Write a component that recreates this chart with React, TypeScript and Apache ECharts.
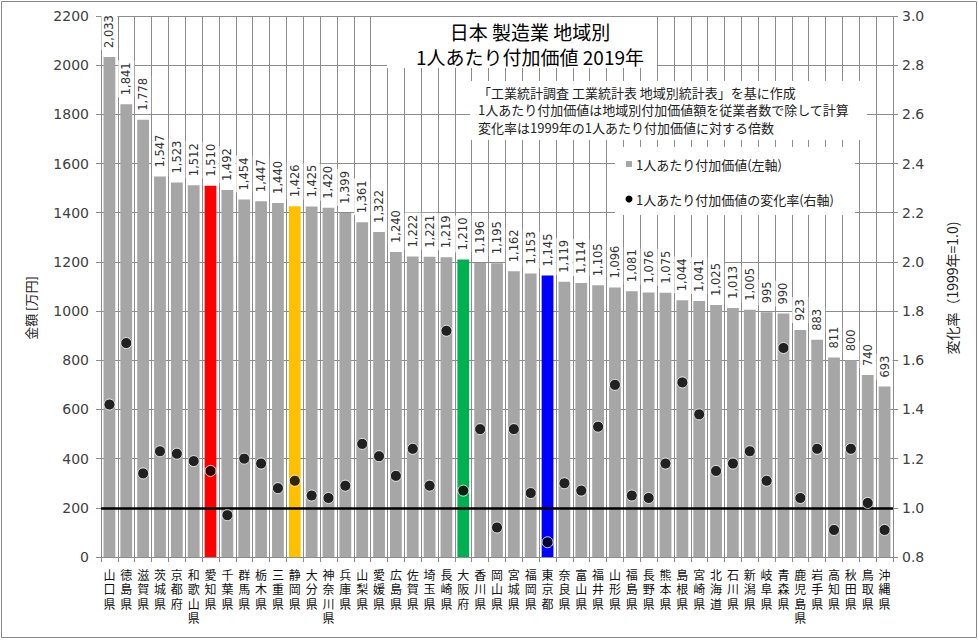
import React, { useEffect, useRef } from "react";
import * as echarts from "echarts";

const categories = [
  "山口県", "徳島県", "滋賀県", "茨城県", "京都府", "和歌山県", "愛知県", "千葉県", "群馬県", "栃木県",
  "三重県", "静岡県", "大分県", "神奈川県", "兵庫県", "山梨県", "愛媛県", "広島県", "佐賀県", "埼玉県",
  "長崎県", "大阪府", "香川県", "岡山県", "宮城県", "福岡県", "東京都", "奈良県", "富山県", "福井県",
  "山形県", "福島県", "長野県", "熊本県", "島根県", "宮崎県", "北海道", "石川県", "新潟県", "岐阜県",
  "青森県", "鹿児島県", "岩手県", "高知県", "秋田県", "鳥取県", "沖縄県",
];

const valuePerWorker = [
  2033, 1841, 1778, 1547, 1523, 1512, 1510, 1492, 1454, 1447,
  1440, 1426, 1425, 1420, 1399, 1361, 1322, 1240, 1222, 1221,
  1219, 1210, 1196, 1195, 1162, 1153, 1145, 1119, 1114, 1105,
  1096, 1081, 1076, 1075, 1044, 1041, 1025, 1013, 1005, 995,
  990, 923, 883, 811, 800, 740, 693,
];

const changeRatio = [
  1.42, 1.67, 1.14, 1.23, 1.22, 1.19, 1.15, 0.97, 1.20, 1.18,
  1.08, 1.11, 1.05, 1.04, 1.09, 1.26, 1.21, 1.13, 1.24, 1.09,
  1.72, 1.07, 1.32, 0.92, 1.32, 1.06, 0.86, 1.10, 1.07, 1.33,
  1.50, 1.05, 1.04, 1.18, 1.51, 1.38, 1.15, 1.18, 1.23, 1.11,
  1.65, 1.04, 1.24, 0.91, 1.24, 1.02, 0.91,
];

const leftTicks = { min: 0, max: 2200, interval: 200 };
const rightTicks = { min: 0.8, max: 3.0, interval: 0.2 };

const titleLines = ["日本 製造業 地域別", "1人あたり付加価値 2019年"];
const noteLines = [
  "「工業統計調査 工業統計表 地域別統計表」を基に作成",
  "1人あたり付加価値は地域別付加価値額を従業者数で除して計算",
  "変化率は1999年の1人あたり付加価値に対する倍数",
];
const legendNames = ["1人あたり付加価値(左軸)", "1人あたり付加価値の変化率(右軸)"];
const leftAxisName = "金額 [万円]";
const rightAxisName = "変化率（1999年=1.0)";

const highlightColors: Record<string, string> = {
  "愛知県": "#FF0000",
  "静岡県": "#FFC000",
  "大阪府": "#00B050",
  "東京都": "#0000FF",
};

const JP = '"Noto Sans CJK JP", "Noto Sans", sans-serif';
const NUM = '"DejaVu Sans", sans-serif';
const GRID = "#8c8c8c";
const BAR = "#A6A6A6";

export default function App() {
  const ref = useRef<HTMLDivElement>(null);

  useEffect(() => {
    document.body.style.margin = "0";
    if (!ref.current) return;
    const chart = echarts.init(ref.current, null, { renderer: "svg" });

    const barData = valuePerWorker.map((v, i) => ({
      value: v,
      itemStyle: { color: highlightColors[categories[i]] ?? BAR },
    }));

    const option: any = {
      animation: false,
      backgroundColor: "#fff",
      grid: { left: 101, right: 85, top: 16, bottom: 83 },
      xAxis: {
        type: "category",
        data: categories,
        boundaryGap: true,
        axisLine: { show: true, lineStyle: { color: GRID, width: 1 } },
        axisTick: { show: true, interval: 0, length: 5, lineStyle: { color: GRID } },
        splitLine: { show: true, interval: 0, lineStyle: { color: GRID, width: 1 } },
        axisLabel: {
          interval: 0,
          margin: 10,
          fontSize: 12,
          lineHeight: 14.5,
          color: "#111",
          fontFamily: JP,
          formatter: (v: string) => v.split("").join("\n"),
        },
      },
      yAxis: [
        {
          type: "value",
          min: leftTicks.min,
          max: leftTicks.max,
          interval: leftTicks.interval,
          axisLine: { show: false },
          axisTick: { show: true, length: 5, lineStyle: { color: GRID } },
          splitLine: { show: true, lineStyle: { color: GRID, width: 1 } },
          axisLabel: {
            fontSize: 14,
            color: "#404040",
            fontFamily: NUM,
            margin: 12,
            formatter: (v: number) => String(v),
          },
        },
        {
          type: "value",
          position: "right",
          min: rightTicks.min,
          max: rightTicks.max,
          interval: rightTicks.interval,
          axisLine: { show: false },
          axisTick: { show: true, length: 5, lineStyle: { color: GRID } },
          splitLine: { show: false },
          axisLabel: {
            fontSize: 14,
            color: "#404040",
            fontFamily: NUM,
            margin: 9,
            formatter: (v: number) => v.toFixed(1),
          },
        },
      ],
      series: [
        {
          type: "bar",
          name: legendNames[0],
          data: barData,
          barWidth: "70%",
          z: 2,
          label: {
            show: true,
            position: "top",
            rotate: 90,
            align: "left",
            verticalAlign: "middle",
            distance: 7,
            fontSize: 11.5,
            fontFamily: NUM,
            color: "#333",
            backgroundColor: "#fff",
            padding: [2, 2, 2, 2],
            formatter: (p: any) => Number(p.value).toLocaleString("en-US"),
          },
        },
        {
          type: "scatter",
          name: legendNames[1],
          yAxisIndex: 1,
          data: changeRatio,
          symbol: "circle",
          symbolSize: 11,
          z: 5,
          itemStyle: { color: "#000", borderColor: "#fff", borderWidth: 1 },
          markLine: {
            silent: true,
            symbol: ["none", "none"],
            label: { show: false },
            lineStyle: { color: "#000", width: 2.5, type: "solid" },
            data: [{ yAxis: 1.0 }],
            z: 4,
          },
        },
      ],
      graphic: [
        {
          type: "rect",
          shape: { x: 1.5, y: 1.5, width: 975, height: 636 },
          style: { fill: "none", stroke: "#888", lineWidth: 1 },
          z: 100,
        },
        {
          type: "rect",
          shape: { x: 387, y: 17, width: 270, height: 51 },
          style: { fill: "#fff" },
          z: 10,
        },
        ...titleLines.map((t, i) => ({
          type: "text",
          x: 530,
          y: 31 + i * 25,
          z: 11,
          style: {
            text: t,
            fill: "#000",
            font: `19px ${JP}`,
            textAlign: "center",
            textVerticalAlign: "middle",
          },
        })),
        {
          type: "rect",
          shape: { x: 470, y: 81, width: 397, height: 59 },
          style: { fill: "#fff" },
          z: 10,
        },
        ...noteLines.map((t, i) => ({
          type: "text",
          x: 478,
          y: 92 + i * 17.5,
          z: 11,
          style: {
            text: t,
            fill: "#222",
            font: `13px ${JP}`,
            textAlign: "left",
            textVerticalAlign: "middle",
          },
        })),
        {
          type: "rect",
          shape: { x: 615, y: 147, width: 240, height: 68 },
          style: { fill: "#fff" },
          z: 10,
        },
        {
          type: "rect",
          shape: { x: 626, y: 161, width: 6, height: 6 },
          style: { fill: BAR },
          z: 11,
        },
        {
          type: "circle",
          shape: { cx: 629, cy: 199, r: 3.5 },
          style: { fill: "#000" },
          z: 11,
        },
        ...legendNames.map((t, i) => ({
          type: "text",
          x: 636,
          y: 164 + i * 35,
          z: 11,
          style: {
            text: t,
            fill: "#222",
            font: `13px ${JP}`,
            textAlign: "left",
            textVerticalAlign: "middle",
          },
        })),
        {
          type: "text",
          x: 30,
          y: 308,
          rotation: Math.PI / 2,
          z: 11,
          style: {
            text: leftAxisName,
            fill: "#222",
            font: `13px ${JP}`,
            textAlign: "center",
            textVerticalAlign: "middle",
          },
        },
        {
          type: "text",
          x: 952,
          y: 288,
          rotation: Math.PI / 2,
          z: 11,
          style: {
            text: rightAxisName,
            fill: "#222",
            font: `14px ${JP}`,
            textAlign: "center",
            textVerticalAlign: "middle",
          },
        },
      ],
    };

    chart.setOption(option);
    return () => chart.dispose();
  }, []);

  return <div ref={ref} style={{ width: 978, height: 640 }} />;
}
